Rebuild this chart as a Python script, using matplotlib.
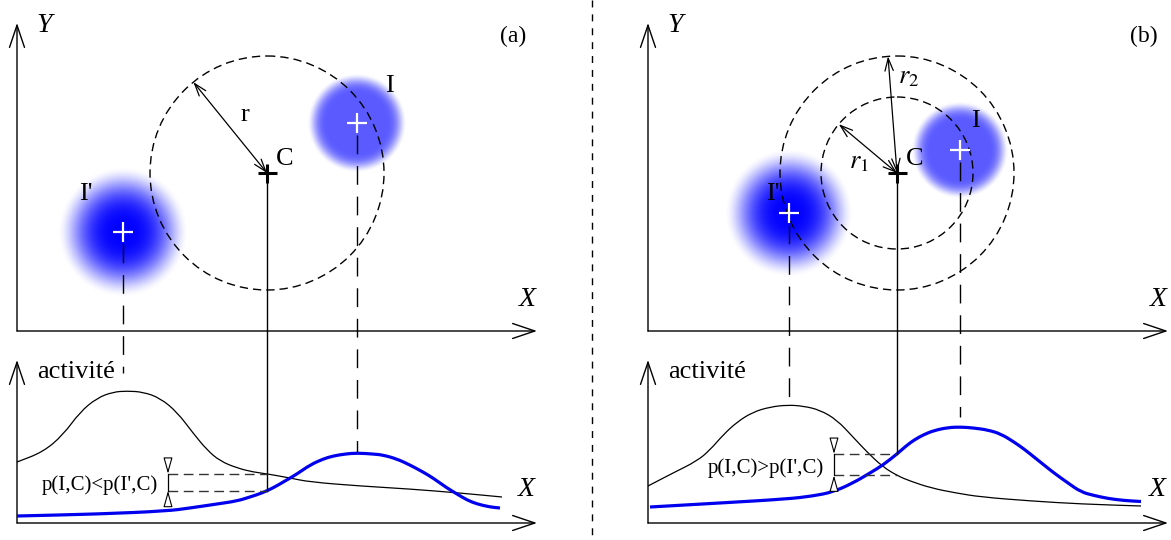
import numpy as np
import matplotlib.pyplot as plt
from matplotlib.patches import Circle, ArrowStyle, PathPatch
from matplotlib.path import Path

plt.rcParams['font.family'] = ['Liberation Serif', 'DejaVu Serif']
plt.rcParams['mathtext.fontset'] = 'stix'

# ==============================
# LAYOUT (pixel frame, y down)
# ==============================
W, H = 1171, 540
PLANE_Y = 331      # upper X axis
ACT_Y = 523        # lower X axis
DIVIDER_X = 592

# ==============================
# DIAGRAM VALUES (panel-local: x from the Y axis, height above the X axis)
# ==============================
panel_tags = ["(a)", "(b)"]
panel_x0 = [17, 648]

c_pos = [(250, 158), (249, 158)]
i_pos = [(340, 208), (312, 181)]
ip_pos = [(106, 99), (141, 118)]
i_radius = [50, 49]
ip_radius = [66, 65]
i_label_off = [(32, 37), (15, 29)]
ip_label_off = [(-37, 38), (-16, 19)]

circle_radii = [[117], [76, 117]]
radius_angles = [[129], [140, 94.4]]
radius_labels = [["r"], ["$r_1$", "$r_2$"]]
radius_label_pos = [[(228, 216)], [(211, 168), (261, 253)]]

# dashed drop lines from the blobs end at these heights in the lower plot
ip_drop_end = [150, 121]
i_drop_end = [71, 106]

# p(I,C) comparison
compare_text = ["p(I,C)<p(I',C)", "p(I,C)>p(I',C)"]
compare_x = [151, 186]

# activity curves, panel (a)
black_a_x = [0, 26, 46, 63, 80, 96, 110, 126, 143, 160, 176, 190, 203, 220,
             236, 251, 273, 293, 343, 393, 443, 485]
black_a_y = [61, 71, 88, 111, 125, 131, 132, 131, 125, 111, 90, 73, 62, 55,
             51, 49, 45, 41, 37, 34, 30, 26]
blue_a_x = [0, 83, 150, 173, 200, 220, 233, 245, 256, 268, 280, 293, 306, 316,
            328, 340, 356, 366, 380, 393, 406, 416, 430, 440, 450, 460, 473, 483]
blue_a_y = [7, 9, 12, 15, 19, 22, 26, 30, 35, 42, 49, 58, 64, 67,
            69, 70, 69, 68, 64, 58, 51, 45, 35, 29, 23, 19, 16, 15]

# activity curves, panel (b)
black_b_x = [0, 25, 49, 62, 75, 89, 105, 122, 139, 155, 172, 189, 205, 219,
             235, 250, 262, 283, 308, 333, 383, 433, 493]
black_b_y = [37, 50, 62, 73, 88, 101, 111, 116, 118, 117, 113, 103, 86, 71,
             56, 47, 42, 35, 30, 26, 22, 19, 17]
blue_b_x = [2, 72, 139, 165, 185, 205, 222, 235, 249, 258, 266, 276, 286, 300,
            313, 326, 340, 353, 366, 376, 386, 396, 406, 420, 433, 446, 460, 476, 493]
blue_b_y = [16, 20, 24, 27, 31, 40, 50, 58, 69, 77, 83, 88.5, 92.5, 95.5,
            96, 95, 93, 89, 81, 74, 66, 58, 50, 40, 31, 27.5, 24.5, 22.5, 21.5]

black_x = [black_a_x, black_b_x]
black_y = [black_a_y, black_b_y]
blue_x = [blue_a_x, blue_b_x]
blue_y = [blue_a_y, blue_b_y]

# ==============================
# HELPERS
# ==============================
AX_HEAD = ArrowStyle("->", head_length=16, head_width=5.4)
R_HEAD = ArrowStyle("<->", head_length=9, head_width=3)
DIM_HEAD = ArrowStyle("-|>", head_length=10, head_width=2.8)


def arrow(ax, p0, p1, style, lw=1.0, fc="k"):
    ax.annotate("", xy=p1, xytext=p0,
                arrowprops=dict(arrowstyle=style, lw=lw, ec="k", fc=fc,
                                shrinkA=0, shrinkB=0, mutation_scale=1))


def blob(ax, cx, cy, R, peak, plateau):
    g = np.linspace(-1, 1, 241)
    xx, yy = np.meshgrid(g, g)
    t = np.clip((np.hypot(xx, yy) - plateau) / (1 - plateau), 0, 1)
    img = np.zeros((g.size, g.size, 4))
    img[..., 2] = 1.0
    img[..., 3] = peak * (1 - t ** 3) ** 2
    ax.imshow(img, extent=(cx - R, cx + R, cy + R, cy - R),
              interpolation="bilinear", zorder=1)


def plus(ax, x, y, size, color, lw):
    ax.plot([x - size, x + size], [y, y], color=color, lw=lw, zorder=4,
            solid_capstyle="butt")
    ax.plot([x, x], [y - size, y + size], color=color, lw=lw, zorder=4,
            solid_capstyle="butt")


def smooth_curve(ax, xs, ys, **kw):
    # quadratic bezier through the midpoints, read points act as controls
    pts = np.column_stack([xs, ys])
    mids = (pts[:-1] + pts[1:]) / 2
    verts = [pts[0], mids[0]]
    codes = [Path.MOVETO, Path.LINETO]
    for i in range(1, len(pts) - 1):
        verts += [pts[i], mids[i]]
        codes += [Path.CURVE3, Path.CURVE3]
    verts.append(pts[-1])
    codes.append(Path.LINETO)
    ax.add_patch(PathPatch(Path(verts, codes), fill=False, **kw))


# ==============================
# FIGURE
# ==============================
fig = plt.figure(figsize=(W / 100, H / 100), dpi=100)
ax = fig.add_axes([0, 0, 1, 1])

for k in range(2):
    x0 = panel_x0[k]
    px = lambda u: x0 + u
    py = lambda v: PLANE_Y - v
    ay = lambda v: ACT_Y - v

    # axes of the plane
    arrow(ax, (x0, PLANE_Y), (x0, 23), AX_HEAD)
    arrow(ax, (x0, PLANE_Y), (px(520), PLANE_Y), AX_HEAD)
    ax.text(px(27), 25, "Y", style="italic", fontsize=20, ha="center", va="center")
    ax.text(px(510), 300, "X", style="italic", fontsize=20, ha="center", va="center")
    ax.text(px(496), 36, panel_tags[k], fontsize=17, ha="center", va="center")

    # axes of the activity plot
    arrow(ax, (x0, ACT_Y), (x0, 360), AX_HEAD)
    arrow(ax, (x0, ACT_Y), (px(520), ACT_Y), AX_HEAD)
    ax.text(px(20), 378, "activité", fontsize=19, ha="left", va="baseline")
    ax.text(px(509), 490, "X", style="italic", fontsize=20, ha="center", va="center")

    # blobs
    ix, iy = px(i_pos[k][0]), py(i_pos[k][1])
    jx, jy = px(ip_pos[k][0]), py(ip_pos[k][1])
    blob(ax, ix, iy, i_radius[k], 0.65, 0.55)
    blob(ax, jx, jy, ip_radius[k], 1.0, 0.0)
    plus(ax, ix, iy, 10, "white", 1.6)
    plus(ax, jx, jy, 10, "white", 1.6)
    ax.text(ix + i_label_off[k][0], iy - i_label_off[k][1], "I",
            fontsize=19, ha="center", va="center", zorder=5)
    ax.text(jx + ip_label_off[k][0], jy - ip_label_off[k][1], "I'",
            fontsize=19, ha="center", va="center", zorder=5)

    # centre C, circles and radii
    cx, cy = px(c_pos[k][0]), py(c_pos[k][1])
    for r, ang, lab, lp in zip(circle_radii[k], radius_angles[k],
                               radius_labels[k], radius_label_pos[k]):
        ax.add_patch(Circle((cx, cy), r, fill=False, ec="k", lw=1.0,
                            ls=(0, (6, 3.6)), zorder=2))
        a = np.deg2rad(ang)
        arrow(ax, (cx, cy), (cx + r * np.cos(a), cy - r * np.sin(a)), R_HEAD, lw=0.9)
        ax.text(px(lp[0]), py(lp[1]), lab, fontsize=19, ha="center", va="center")
    plus(ax, cx, cy, 9.5, "black", 2.2)
    ax.text(cx + 18, cy - 14, "C", fontsize=19, ha="center", va="center")

    # activity curves
    bx = [px(u) for u in black_x[k]]
    by = [ay(v) for v in black_y[k]]
    ux = [px(u) for u in blue_x[k]]
    uy = [ay(v) for v in blue_y[k]]
    smooth_curve(ax, bx, by, ec="black", lw=0.9, zorder=3)
    smooth_curve(ax, ux, uy, ec="#0000ee", lw=2.3, zorder=3)

    # drop lines
    drop = dict(color="black", lw=1.0, ls=(0, (13.5, 8.5)), zorder=3)
    ax.plot([jx, jx], [jy + 12, ay(ip_drop_end[k])], **drop)
    ax.plot([ix, ix], [iy + 12, ay(i_drop_end[k])], **drop)

    # C line down to the blue curve, and the comparison
    h_black = np.interp(c_pos[k][0], black_x[k], black_y[k])
    h_blue = np.interp(c_pos[k][0], blue_x[k], blue_y[k])
    ax.plot([cx, cx], [cy, ay(h_blue)], color="black", lw=1.0, zorder=3)
    dx = px(compare_x[k])
    for h in (h_black, h_blue):
        ax.plot([dx, cx], [ay(h), ay(h)], color="#333333", lw=1.0,
                ls=(0, (7, 4)), zorder=3)
    top, bot = ay(max(h_black, h_blue)), ay(min(h_black, h_blue))
    ax.plot([dx, dx], [top, bot], color="black", lw=0.9, zorder=3)
    arrow(ax, (dx, top - 14), (dx, top), DIM_HEAD, lw=0.8, fc="white")
    arrow(ax, (dx, bot + 14), (dx, bot), DIM_HEAD, lw=0.8, fc="white")
    ax.text(dx - 10, (top + bot) / 2 + 3, compare_text[k], fontsize=15,
            ha="right", va="center")

# divider between the two panels
ax.plot([DIVIDER_X, DIVIDER_X], [0, H], color="black", lw=1.0, ls=(0, (5, 5)))

ax.set_xlim(0, W)
ax.set_ylim(H, 0)
ax.set_aspect("auto")
ax.axis("off")

fig.savefig("out.png", dpi=100)
